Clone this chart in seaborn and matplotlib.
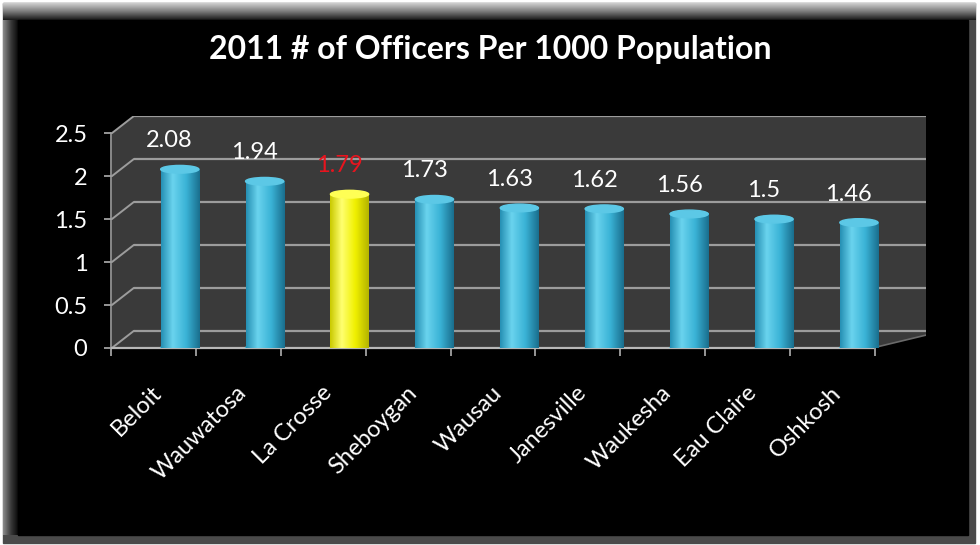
import numpy as np
import pandas as pd
import matplotlib
matplotlib.use("Agg")
import matplotlib.pyplot as plt
import seaborn as sns
from matplotlib.patches import Rectangle, Ellipse, Polygon
from matplotlib.colors import LinearSegmentedColormap

# ---- data ----
cities = ["Beloit", "Wauwatosa", "La Crosse", "Sheboygan", "Wausau",
          "Janesville", "Waukesha", "Eau Claire", "Oshkosh"]
officers = [2.08, 1.94, 1.79, 1.73, 1.63, 1.62, 1.56, 1.5, 1.46]
value_labels = ["2.08", "1.94", "1.79", "1.73", "1.63", "1.62", "1.56", "1.5", "1.46"]
highlight = "La Crosse"
title = "2011 # of Officers Per 1000 Population"
yticks = [0, 0.5, 1, 1.5, 2, 2.5]
ytick_labels = ["0", "0.5", "1", "1.5", "2", "2.5"]

sns.set_theme(style="dark")
plt.rcParams['font.family'] = ['Lato', 'DejaVu Sans']

W, H = 980, 545
fig = plt.figure(figsize=(9.8, 5.45), dpi=100)
fig.patch.set_facecolor('white')

# ---- framed background ----
bg = fig.add_axes([0, 0, 1, 1], zorder=-10)
bg.set_xlim(0, W); bg.set_ylim(H, 0); bg.axis('off')
bg.add_patch(Rectangle((3, 3), 972, 540, color='#4a4a4a'))
top_cmap = LinearSegmentedColormap.from_list('top', ['#cfcfcf', '#7a7a7a', '#1a1a1a'])
bg.imshow(np.linspace(0, 1, 40).reshape(-1, 1), extent=(3, 975, 20, 3),
          cmap=top_cmap, aspect='auto', zorder=1)
left_cmap = LinearSegmentedColormap.from_list('left', ['#8a8a8a', '#3a3a3a', '#050505'])
bg.imshow(np.linspace(0, 1, 40).reshape(1, -1), extent=(3, 18, 535, 20),
          cmap=left_cmap, aspect='auto', zorder=1)
bg.add_patch(Rectangle((18, 20), 950, 515, color='black', zorder=2))
bg.set_xlim(0, W); bg.set_ylim(H, 0)

# ---- main axes ----
XL, XR = -0.8, 8.79
DEPTH_X, DEPTH_Y = 0.26, 0.2   # perspective offset of the back wall
ax = fig.add_axes([111 / W, 1 - 348 / H, (926 - 111) / W, (348 - 116) / H])
ax.set_facecolor('black')

# walls (side wall + back wall + floor) as one grey shape
ax.add_patch(Polygon([(XL, 0), (XL, 2.5), (XL + DEPTH_X, 2.5 + DEPTH_Y),
                      (XR, 2.5 + DEPTH_Y), (XR, DEPTH_Y * 0.75), (8.16, 0)],
                     closed=True, facecolor='#3a3a3a', edgecolor='none', zorder=0))
# back-wall gridlines and slanted side-wall lines
for v in yticks:
    ax.plot([XL + DEPTH_X, XR], [v + DEPTH_Y, v + DEPTH_Y], color='#9c9c9c',
            lw=1.6, zorder=1, solid_capstyle='butt')
    ax.plot([XL, XL + DEPTH_X], [v, v + DEPTH_Y], color='#9c9c9c', lw=1.4, zorder=1)
ax.plot([8.16, XR], [0, DEPTH_Y * 0.75], color='#6a6a6a', lw=1.2, zorder=1)

df = pd.DataFrame({'city': cities, 'value': officers})
palette = {c: ('#f2f200' if c == highlight else '#3db5d8') for c in cities}
sns.barplot(data=df, x='city', y='value', hue='city', palette=palette,
            width=0.45, ax=ax, legend=False, saturation=1, zorder=3,
            linewidth=0, edgecolor='none')

cyan_cmap = LinearSegmentedColormap.from_list(
    'cy', [(0, '#2690b4'), (0.3, '#6ad3ee'), (0.65, '#3ab3d6'), (1, '#1a6f8e')])
yel_cmap = LinearSegmentedColormap.from_list(
    'ye', [(0, '#caca00'), (0.3, '#ffff70'), (0.65, '#f0f000'), (1, '#b4b400')])
row = np.linspace(0, 1, 64).reshape(1, -1)
cap_h = 0.09
for patch, c in zip(ax.patches[1:], cities):
    x0, w, h = patch.get_x(), patch.get_width(), patch.get_height()
    hl = (c == highlight)
    cmap = yel_cmap if hl else cyan_cmap
    ax.imshow(row, extent=(x0, x0 + w, 0, h), aspect='auto', cmap=cmap, zorder=4)
    ax.add_patch(Ellipse((x0 + w / 2, 0), w, cap_h, color=cmap(0.55), zorder=3.9))
    ax.add_patch(Ellipse((x0 + w / 2, h), w, cap_h,
                         color=('#ffff55' if hl else '#5cc8e6'), zorder=5))

for i, (v, lab, c) in enumerate(zip(officers, value_labels, cities)):
    ax.text(i - 0.12, v + 0.33, lab, ha='center', va='center', fontsize=17,
            color=('#e8141e' if c == highlight else 'white'), zorder=6)

ax.set_xlim(XL, XR)
ax.set_ylim(0, 2.5 + DEPTH_Y)
ax.set_xlabel(''); ax.set_ylabel('')
ax.grid(False)

ax.set_yticks(yticks, ytick_labels)
ax.tick_params(axis='y', colors='#b0b0b0', labelcolor='white', labelsize=17,
               length=5, width=1.2, pad=12, left=True, direction='out')

ax.set_xticks([i - 0.25 for i in range(len(cities))], cities)
ax.set_xticks([k - 0.81 for k in range(len(cities) + 1)], minor=True)
ax.tick_params(axis='x', which='major', length=0, labelcolor='white',
               labelsize=17, pad=30)
ax.tick_params(axis='x', which='minor', length=6, width=1.2, color='#b0b0b0',
               bottom=True, direction='out')
plt.setp(ax.get_xticklabels(), rotation=45, ha='right', va='center',
         rotation_mode='anchor')

for s in ['top', 'right']:
    ax.spines[s].set_visible(False)
ax.spines['left'].set_color('#a0a0a0'); ax.spines['left'].set_linewidth(1.2)
ax.spines['left'].set_bounds(0, 2.5)
ax.spines['bottom'].set_color('#b8b8b8'); ax.spines['bottom'].set_linewidth(1.6)
ax.spines['bottom'].set_bounds(XL, 8.16)

fig.text(0.5, 1 - 50 / H, title, ha='center', va='center', fontsize=23,
         weight='bold', color='white')

fig.savefig('out.png', dpi=100, facecolor=fig.get_facecolor())
